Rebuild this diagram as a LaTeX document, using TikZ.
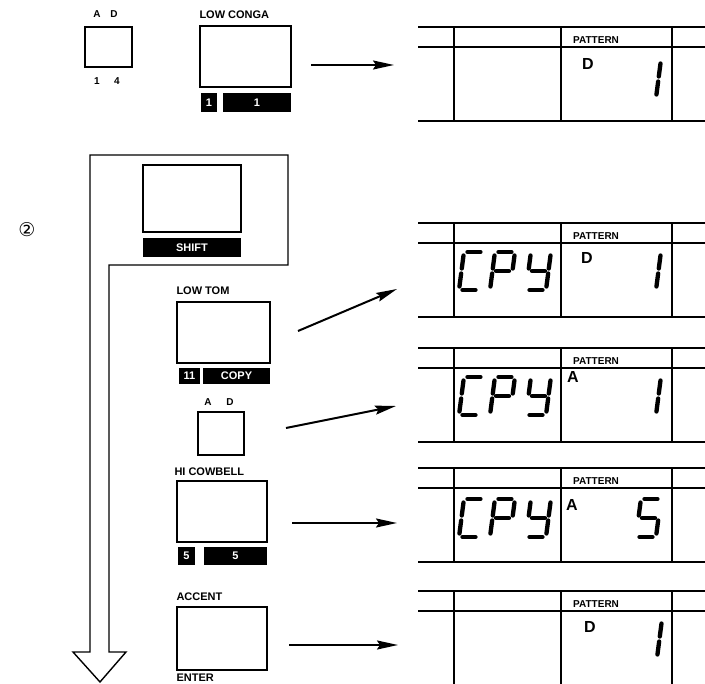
\documentclass[tikz,border=0pt]{standalone}
\usepackage{fontspec}
\setmainfont{Liberation Sans}
\newfontfamily\symbolfont{DejaVu Sans}
\usetikzlibrary{arrows.meta,positioning}

% seven-segment pieces, local px with y pointing down, origin = lower left
\def\lcdsega{(3.5,-38) -- (16.5,-38)}
\def\lcdsegb{(20,-34.5) -- (20,-21.5)}
\def\lcdsegc{(20,-16.5) -- (20,-3.5)}
\def\lcdsegd{(3.5,0) -- (16.5,0)}
\def\lcdsege{(0,-16.5) -- (0,-3.5)}
\def\lcdsegf{(0,-34.5) -- (0,-21.5)}
\def\lcdsegg{(3.5,-19) -- (16.5,-19)}
\newcommand{\lcdchar}[3]{%
  \begin{scope}[shift={(#1,#2)}, xslant=0.13]
    \foreach \s in {#3} {\draw[lcdseg] \csname lcdseg\s\endcsname;}
  \end{scope}}

\begin{document}
\begin{tikzpicture}[
    x=1pt, y=-1pt,
    pad/.style={rectangle, draw, line width=1.4pt, inner sep=0pt},
    keycap/.style={rectangle, fill=black, text=white, font=\fontsize{11}{11}\selectfont\bfseries, inner sep=0pt, minimum height=19pt},
    padlabel/.style={font=\fontsize{11}{11}\selectfont\bfseries, inner sep=0pt},
    tinylabel/.style={font=\fontsize{10}{10}\selectfont\bfseries, inner sep=0pt},
    lcdletter/.style={font=\fontsize{16}{16}\selectfont\bfseries, inner sep=0pt},
    lcdtitle/.style={font=\fontsize{10}{10}\selectfont\bfseries, inner sep=0pt, anchor=west},
    lcdline/.style={line width=1.3pt},
    lcdseg/.style={line width=4.3pt, line cap=round},
    arrow/.style={-{Stealth[length=21pt,width=9pt,inset=3pt]}, line width=2pt}
]
\useasboundingbox (0,0) rectangle (705,684);

% Step number
\node[font=\symbolfont\fontsize{19}{19}\selectfont] (stepTwo) at (27,230) {②};

% First step: pattern A/D switch and LOW CONGA
\node[pad, minimum width=47pt, minimum height=40pt] (abcdSwitch) at (108.5,47) {};
\node[tinylabel] (swA) at (97,14) {A};
\node[tinylabel] (swD) at (114,14) {D};
\node[tinylabel] (swOne) at (97,81) {1};
\node[tinylabel] (swFour) at (117,81) {4};
\node[pad, minimum width=91pt, minimum height=61pt] (lowConga) at (245.5,56.5) {};
\node[padlabel, above=6pt of lowConga.north west, anchor=south west] {LOW CONGA};
\node[keycap, minimum width=16pt] (congaNum) at (209,103) {1};
\node[keycap, minimum width=68pt] (congaKey) at (257,103) {1};

% Second step: SHIFT + LOW TOM, A/D, HI COWBELL, ACCENT
\node[pad, minimum width=98pt, minimum height=67pt] (shiftPad) at (192,198.5) {};
\node[keycap, minimum width=98pt] (shiftKey) at (192,247.5) {SHIFT};
\node[pad, minimum width=93pt, minimum height=61pt] (lowTom) at (223.5,332.5) {};
\node[padlabel, above=6pt of lowTom.north west, anchor=south west] {LOW TOM};
\node[keycap, minimum width=21pt, minimum height=16pt] (tomNum) at (189.5,376) {11};
\node[keycap, minimum width=67pt, minimum height=16pt] (copyKey) at (236.5,376) {COPY};
\node[pad, minimum width=46pt, minimum height=43pt] (adSwitch) at (221,433.5) {};
\node[tinylabel] (adA) at (208,402) {A};
\node[tinylabel] (adD) at (230,402) {D};
\node[pad, minimum width=90pt, minimum height=61pt] (hiCowbell) at (222,511.5) {};
\node[padlabel, above=4pt of hiCowbell.north west, anchor=south west, xshift=-2pt] {HI COWBELL};
\node[keycap, minimum width=17pt, minimum height=18pt] (cowbellNum) at (186.5,556) {5};
\node[keycap, minimum width=63pt, minimum height=18pt] (cowbellKey) at (235.5,556) {5};
\node[pad, minimum width=90pt, minimum height=63pt] (accent) at (222,638.5) {};
\node[padlabel, above=5pt of accent.north west, anchor=south west] {ACCENT};
\node[padlabel, below=3pt of accent.south west, anchor=north west] {ENTER};

% Big hollow arrow around the second step
\draw[line width=1.4pt] (109,652) -- (109,265) -- (288,265) -- (288,155) -- (90,155)
  -- (90,652) -- (73,652) -- (100,682) -- (126,652) -- cycle;

% Display panels
\foreach \t/\n in {27/dispA, 223/dispB, 348/dispC, 468/dispD, 591/dispE} {
  \node[inner sep=0pt, minimum width=287pt, minimum height=94pt, anchor=north west] (\n) at (418,\t) {};
  \draw[lcdline] (418,\t) -- (705,\t);
  \draw[lcdline] (418,\t+20) -- (705,\t+20);
  \draw[lcdline] (418,\t+94) -- (705,\t+94);
  \foreach \v in {454,561,672} \draw[lcdline] (\v,\t) -- (\v,\t+94);
  \node[lcdtitle] at (573,\t+13) {PATTERN};
}

% Display contents
\node[lcdletter] (dA) at (588,64) {D};
\lcdchar{636}{98}{b,c}
\lcdchar{459}{290}{a,d,e,f}
\lcdchar{490}{290}{a,b,e,f,g}
\lcdchar{526}{290}{b,c,d,f,g}
\node[lcdletter] (dB) at (587,258) {D};
\lcdchar{636}{290}{b,c}
\lcdchar{459}{415}{a,d,e,f}
\lcdchar{490}{415}{a,b,e,f,g}
\lcdchar{526}{415}{b,c,d,f,g}
\node[lcdletter] (dC) at (573,377) {A};
\lcdchar{636}{415}{b,c}
\lcdchar{459}{537}{a,d,e,f}
\lcdchar{490}{537}{a,b,e,f,g}
\lcdchar{526}{537}{b,c,d,f,g}
\node[lcdletter] (dD) at (572,505) {A};
\lcdchar{636}{537}{a,c,d,f,g}
\node[lcdletter] (dE) at (590,627) {D};
\lcdchar{637}{658}{b,c}

% Arrows
\coordinate (congaOut) at (311,65);
\coordinate (congaIn) at (394,65);
\coordinate (tomOut) at (298,331);
\coordinate (tomIn) at (397,289);
\coordinate (adOut) at (286,428);
\coordinate (adIn) at (396,406);
\coordinate (cowbellOut) at (292,523);
\coordinate (cowbellIn) at (397,523);
\coordinate (accentOut) at (289,645);
\coordinate (accentIn) at (398,645);
\draw[arrow] (congaOut) -- (congaIn);
\draw[arrow] (tomOut) -- (tomIn);
\draw[arrow] (adOut) -- (adIn);
\draw[arrow] (cowbellOut) -- (cowbellIn);
\draw[arrow] (accentOut) -- (accentIn);

\end{tikzpicture}
\end{document}
